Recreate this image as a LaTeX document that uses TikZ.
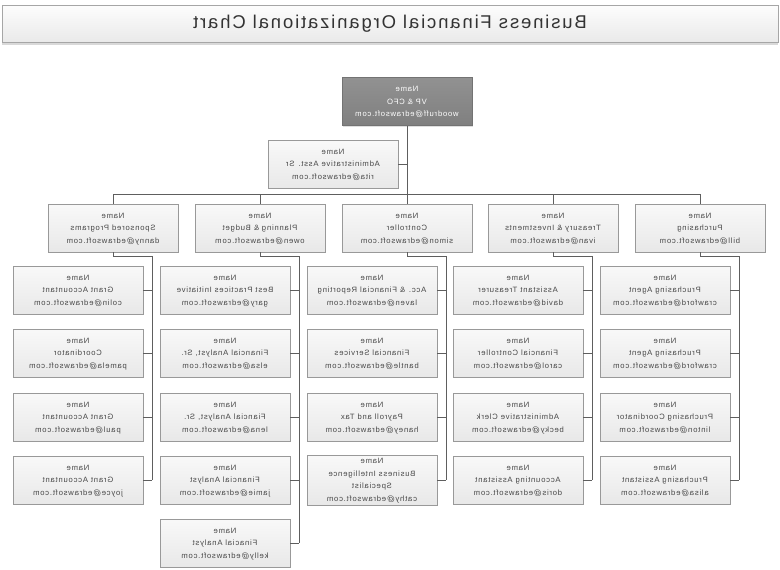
\documentclass[tikz,border=0pt]{standalone}
\usepackage{fontspec}
\setmainfont{Liberation Sans}
\newfontfamily\spfont[LetterSpace=10]{Liberation Sans}
\usetikzlibrary{shadows}
\newcommand{\mtx}[1]{\reflectbox{\begin{tabular}{@{}c@{}}#1\end{tabular}}}
\definecolor{txt}{HTML}{474747}
\definecolor{wirec}{HTML}{5E5E5E}
\begin{document}
\begin{tikzpicture}[x=1pt,y=-1pt,
  box/.style={draw=gray!80, top color=gray!5, bottom color=gray!18,
    minimum width=130pt, minimum height=48pt, inner sep=0pt, text=txt,
    font=\spfont\fontsize{7.7}{12.5}\selectfont,
    drop shadow={shadow xshift=1pt,shadow yshift=-1.2pt,opacity=0.25}},
  topbox/.style={box, top color=black!43, bottom color=black!50, draw=black!55, text=white},
  wire/.style={draw=wirec, line width=0.8pt}]
\useasboundingbox (0,0) rectangle (780,570);

% title
\node[draw=gray!70, top color=gray!2, bottom color=gray!17, minimum width=776pt,
  minimum height=37pt, inner sep=0pt, text=black!80,
  font=\spfont\fontsize{18.5}{20}\selectfont,
  drop shadow={shadow xshift=0pt,shadow yshift=-2pt,opacity=0.3}]
  (title) at (390,24) {\reflectbox{Business Financial Organizational Chart}};

% top
\node[topbox] (vp) at (407,101.5) {\mtx{Name\\VP \& CFO\\woodruff@edrawsoft.com}};
\node[box] (asst) at (333,164) {\mtx{Name\\Administrative Asst. Sr\\rita@edrawsoft.com}};

% level 2
\node[box] (spo) at (113,228) {\mtx{Name\\Sponsored Programs\\danny@edrawsoft.com}};
\node[box] (pla) at (260,228) {\mtx{Name\\Planning \& Budget\\owen@edrawsoft.com}};
\node[box] (con) at (407,228) {\mtx{Name\\Controller\\simon@edrawsoft.com}};
\node[box] (tre) at (553,228) {\mtx{Name\\Treasury \& Investments\\ivan@edrawsoft.com}};
\node[box] (pur) at (700,228) {\mtx{Name\\Purchasing\\bill@edrawsoft.com}};

% level 3 - sponsored
\node[box] (s1) at (78,290) {\mtx{Name\\Grant Accountant\\colin@edrawsoft.com}};
\node[box] (s2) at (78,353) {\mtx{Name\\Coordinator\\pamela@edrawsoft.com}};
\node[box] (s3) at (78,417) {\mtx{Name\\Grant Accountant\\paul@edrawsoft.com}};
\node[box] (s4) at (78,480) {\mtx{Name\\Grant Accountant\\joyce@edrawsoft.com}};
% planning
\node[box] (p1) at (225,290) {\mtx{Name\\Best Practices Initiative\\gary@edrawsoft.com}};
\node[box] (p2) at (225,353) {\mtx{Name\\Financial Analyst, Sr.\\elsa@edrawsoft.com}};
\node[box] (p3) at (225,417) {\mtx{Name\\Fiancial Analyst, Sr.\\lena@edrawsoft.com}};
\node[box] (p4) at (225,480) {\mtx{Name\\Financial Analyst\\jamie@edrawsoft.com}};
\node[box] (p5) at (225,543) {\mtx{Name\\Finacial Analyst\\kelly@edrawsoft.com}};
% controller
\node[box] (c1) at (372,290) {\mtx{Name\\Acc. \& Financial Reporting\\laven@edrawsoft.com}};
\node[box] (c2) at (372,353) {\mtx{Name\\Financial Services\\bantle@edrawsoft.com}};
\node[box] (c3) at (372,417) {\mtx{Name\\Payroll and Tax\\haney@edrawsoft.com}};
\node[box] (c4) at (372,480) {\mtx{Name\\Business Intelligence\\Specialist\\cathy@edrawsoft.com}};
% treasury
\node[box] (t1) at (518,290) {\mtx{Name\\Assistant Treasurer\\david@edrawsoft.com}};
\node[box] (t2) at (518,353) {\mtx{Name\\Financial Controller\\carol@edrawsoft.com}};
\node[box] (t3) at (518,417) {\mtx{Name\\Administrative Clerk\\becky@edrawsoft.com}};
\node[box] (t4) at (518,480) {\mtx{Name\\Accounting Assistant\\doris@edrawsoft.com}};
% purchasing
\node[box] (u1) at (665,290) {\mtx{Name\\Pruchasing Agent\\crawford@edrawsoft.com}};
\node[box] (u2) at (665,353) {\mtx{Name\\Pruchasing Agent\\crawford@edrawsoft.com}};
\node[box] (u3) at (665,417) {\mtx{Name\\Pruchasing Coordinator\\linton@edrawsoft.com}};
\node[box] (u4) at (665,480) {\mtx{Name\\Pruchasing Assistant\\alisa@edrawsoft.com}};

% junction coordinates
\coordinate (busL) at (113,194);
\coordinate (busR) at (700,194);
\coordinate (jS) at (152,256);
\coordinate (jP) at (299,256);
\coordinate (jC) at (446,256);
\coordinate (jT) at (592,256);
\coordinate (jU) at (739,256);

% connectors
\draw[wire] (vp.south) -- (vp.south |- busL);
\draw[wire] (asst.east) -- (asst.east -| vp.south);
\draw[wire] (busL) -- (busR);
\foreach \n in {spo,pla,con,tre,pur}{
  \draw[wire] (busL -| \n.north) -- (\n.north);
}
\draw[wire] (spo.south) |- (jS) -- (jS |- s4.east);
\draw[wire] (pla.south) |- (jP) -- (jP |- p5.east);
\draw[wire] (con.south) |- (jC) -- (jC |- c4.east);
\draw[wire] (tre.south) |- (jT) -- (jT |- t4.east);
\draw[wire] (pur.south) |- (jU) -- (jU |- u4.east);
\foreach \c in {s1,s2,s3,s4}{\draw[wire] (\c.east) -- (\c.east -| jS);}
\foreach \c in {p1,p2,p3,p4,p5}{\draw[wire] (\c.east) -- (\c.east -| jP);}
\foreach \c in {c1,c2,c3,c4}{\draw[wire] (\c.east) -- (\c.east -| jC);}
\foreach \c in {t1,t2,t3,t4}{\draw[wire] (\c.east) -- (\c.east -| jT);}
\foreach \c in {u1,u2,u3,u4}{\draw[wire] (\c.east) -- (\c.east -| jU);}
\end{tikzpicture}
\end{document}
